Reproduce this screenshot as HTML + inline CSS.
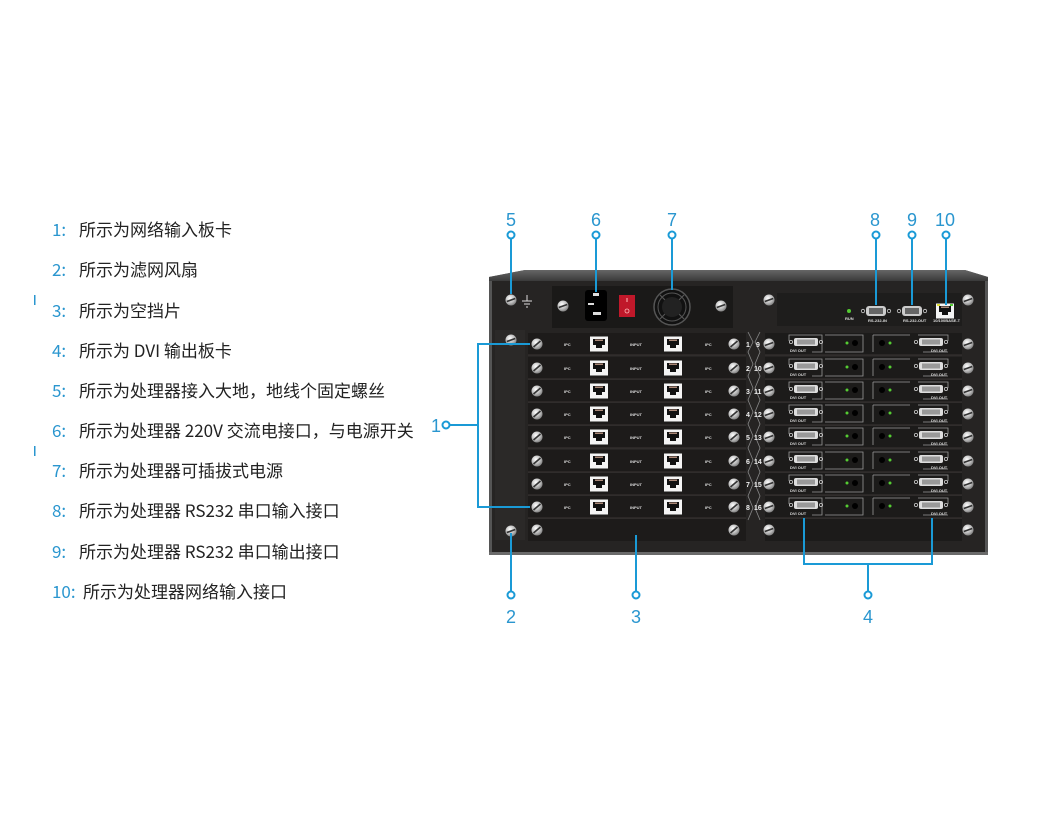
<!DOCTYPE html>
<html><head><meta charset="utf-8"><style>
html,body{margin:0;padding:0;background:#fff;width:1040px;height:830px;overflow:hidden}
svg{display:block}
.t{font-family:"Noto Sans CJK SC","Liberation Sans",sans-serif;font-size:17px;fill:#222}
.n{font-family:"Noto Sans CJK SC","Liberation Sans",sans-serif;font-size:17px;fill:#2a96cf}
.c{font-family:"Liberation Sans",sans-serif;font-size:18px;fill:#2a96cf;text-anchor:middle}
.s{font-family:"Liberation Sans",sans-serif;font-size:4px;fill:#ddd;font-weight:bold}
.w{font-family:"Liberation Sans",sans-serif;font-size:7px;fill:#eee;font-weight:bold}
</style></head><body>
<svg width="1040" height="830" viewBox="0 0 1040 830" xmlns="http://www.w3.org/2000/svg">
<defs>
<radialGradient id="sg" cx="0.4" cy="0.35" r="0.7"><stop offset="0" stop-color="#fff"/><stop offset="0.6" stop-color="#bbb"/><stop offset="1" stop-color="#777"/></radialGradient>
<linearGradient id="tg" x1="0" y1="0" x2="0" y2="1"><stop offset="0" stop-color="#666"/><stop offset="1" stop-color="#3a3a3a"/></linearGradient>
<g id="scr"><circle r="5.5" fill="url(#sg)"/><line x1="-3.5" y1="3" x2="3.5" y2="-3" stroke="#333" stroke-width="1.6"/></g>
<g id="scrh"><circle r="5.5" fill="url(#sg)"/><line x1="-4.5" y1="0" x2="4.5" y2="0" stroke="#333" stroke-width="1.6" transform="rotate(-20)"/></g>
<g id="rj"><rect x="-9" y="-7.5" width="18" height="15" fill="#f4f4f4"/><path d="M-6,-5 h12 v6 h-3 v3 h-6 v-3 h-3z" fill="#111"/><rect x="-4" y="-4.5" width="8" height="1.5" fill="#a87"/></g>
<g id="dvi"><rect x="-12" y="-4" width="24" height="8" rx="2" fill="#ddd"/><rect x="-9" y="-2.5" width="18" height="5" fill="#999"/><circle cx="-15" r="1.6" fill="none" stroke="#ccc" stroke-width="0.8"/><circle cx="15" r="1.6" fill="none" stroke="#ccc" stroke-width="0.8"/></g>
<g id="lrow">
<rect x="528" y="-11" width="218" height="22" fill="#1d1b1a"/>
<line x1="528" y1="11" x2="746" y2="11" stroke="#3a3634" stroke-width="1"/>
<use href="#scr" x="537"/>
<text class="s" x="564" y="2">IPC</text>
<use href="#rj" x="599"/>
<text class="s" x="630" y="2">INPUT</text>
<use href="#rj" x="673"/>
<text class="s" x="705" y="2">IPC</text>
<use href="#scr" x="734"/>
</g>
<g id="rrow">
<rect x="765" y="-11" width="197" height="22" fill="#1c1b1a"/>
<line x1="765" y1="11" x2="962" y2="11" stroke="#3a3634" stroke-width="1"/>
<use href="#scrh" x="769"/>
<path d="M789,-3 v-6 h33 v17 h-10" fill="none" stroke="#999" stroke-width="0.8"/>
<use href="#dvi" x="806" y="-2"/>
<text class="s" x="790" y="8">DVI OUT</text>
<path d="M825,-9 h38 v17 h-38" fill="none" stroke="#999" stroke-width="0.8"/>
<circle cx="847" cy="-1" r="1.5" fill="#5c3"/><circle cx="855" cy="-1" r="3" fill="#000"/>
<path d="M873,-9 v17 M873,-9 h37" fill="none" stroke="#999" stroke-width="0.8"/>
<circle cx="882" cy="-1" r="3" fill="#000"/><circle cx="890" cy="-1" r="1.5" fill="#5c3"/>
<path d="M918,-9 h30 v6 M948,8 h-25" fill="none" stroke="#999" stroke-width="0.8"/>
<use href="#dvi" x="931" y="-2"/>
<text class="s" x="931" y="8">DVI OUT</text>
<use href="#scrh" x="968"/>
</g>
</defs>

<!-- left text -->
<g>
<text class="n" x="52" y="236">1:</text><text class="t" x="79" y="236">所示为网络输入板卡</text>
<text class="n" x="52" y="276">2:</text><text class="t" x="79" y="276">所示为滤网风扇</text>
<text class="n" x="52" y="317">3:</text><text class="t" x="79" y="317">所示为空挡片</text>
<text class="n" x="52" y="357">4:</text><text class="t" x="79" y="357">所示为 DVI 输出板卡</text>
<text class="n" x="52" y="397">5:</text><text class="t" x="79" y="397">所示为处理器接入大地，地线个固定螺丝</text>
<text class="n" x="52" y="437">6:</text><text class="t" x="79" y="437">所示为处理器 220V 交流电接口，与电源开关</text>
<text class="n" x="52" y="477">7:</text><text class="t" x="79" y="477">所示为处理器可插拔式电源</text>
<text class="n" x="52" y="517">8:</text><text class="t" x="79" y="517">所示为处理器 RS232 串口输入接口</text>
<text class="n" x="52" y="558">9:</text><text class="t" x="79" y="558">所示为处理器 RS232 串口输出接口</text>
<text class="n" x="52" y="598">10:</text><text class="t" x="83" y="598">所示为处理器网络输入接口</text>
</g>
<rect x="34" y="295" width="1.5" height="10" fill="#2a96cf"/>
<rect x="34" y="446" width="1.5" height="10" fill="#2a96cf"/>

<!-- chassis -->
<path d="M489,277 L525,270 L965,270 L988,277 L988,555 L489,555 Z" fill="#555"/>
<path d="M489,277 L525,270 L965,270 L988,277 L988,281 L489,281 Z" fill="url(#tg)"/>
<rect x="492" y="281" width="493" height="271" fill="#262423"/>
<rect x="489" y="552" width="499" height="3" fill="#6a6a6a"/>

<!-- top section -->
<use href="#scrh" x="511" y="300"/>
<path d="M527,295 v6 M522,301 h10 M524,304 h6 M526,307 h2" stroke="#ddd" stroke-width="1" fill="none"/>
<rect x="552" y="286" width="181" height="42" fill="#1a1918"/>
<use href="#scrh" x="563" y="306"/>
<rect x="585" y="290" width="22" height="31" rx="3" fill="#000"/>
<rect x="593" y="293" width="6" height="3" fill="#ddd"/><rect x="588" y="303" width="6" height="2" fill="#ddd"/><rect x="593" y="312" width="8" height="3" fill="#ddd"/>
<rect x="619" y="295" width="16" height="22" fill="#c0182a"/>
<line x1="627" y1="298" x2="627" y2="302" stroke="#fbb" stroke-width="1"/><circle cx="627" cy="311" r="2" fill="none" stroke="#fbb" stroke-width="0.8"/>
<circle cx="672" cy="307" r="18" fill="#111" stroke="#555" stroke-width="1.5"/>
<circle cx="672" cy="307" r="14" fill="none" stroke="#555" stroke-width="1"/>
<path d="M660,295 L684,319 M684,295 L660,319" stroke="#555" stroke-width="1.2"/>
<circle cx="672" cy="307" r="10" fill="#222"/>
<use href="#scrh" x="721" y="306"/>
<use href="#scrh" x="769" y="300"/>
<rect x="777" y="293" width="185" height="33" fill="#1e1d1c"/>
<circle cx="849" cy="311" r="2" fill="#5c3"/><text class="s" x="845" y="320">RUN</text>
<g transform="translate(876,311)"><rect x="-10" y="-5" width="20" height="10" rx="3" fill="#ccc"/><rect x="-7" y="-3" width="14" height="6" fill="#666"/><circle cx="-13" r="1.7" fill="none" stroke="#ccc" stroke-width="0.8"/><circle cx="13" r="1.7" fill="none" stroke="#ccc" stroke-width="0.8"/></g>
<text class="s" x="868" y="322">RS-232-IN</text>
<g transform="translate(912,311)"><rect x="-10" y="-5" width="20" height="10" rx="3" fill="#ccc"/><rect x="-7" y="-3" width="14" height="6" fill="#666"/><circle cx="-13" r="1.7" fill="none" stroke="#ccc" stroke-width="0.8"/><circle cx="13" r="1.7" fill="none" stroke="#ccc" stroke-width="0.8"/></g>
<text class="s" x="903" y="322">RS-232-OUT</text>
<use href="#rj" x="945" y="311"/><rect x="937" y="304" width="3" height="2" fill="#dd3"/><rect x="950" y="304" width="3" height="2" fill="#5c3"/>
<text class="s" x="933" y="322">10/100BASE-T</text>
<use href="#scrh" x="968" y="300"/>

<!-- left column -->
<rect x="495" y="330" width="30" height="210" fill="#2b2928"/>
<use href="#scrh" x="511" y="340"/>
<use href="#scrh" x="511" y="531"/>

<!-- rows -->
<use href="#lrow" y="344"/><use href="#lrow" y="368"/><use href="#lrow" y="391"/><use href="#lrow" y="414"/>
<use href="#lrow" y="437"/><use href="#lrow" y="461"/><use href="#lrow" y="484"/><use href="#lrow" y="507"/>
<rect x="528" y="519" width="218" height="22" fill="#1d1b1a"/>
<use href="#scr" x="537" y="530"/><use href="#scr" x="734" y="530"/>
<use href="#rrow" y="344"/><use href="#rrow" y="368"/><use href="#rrow" y="391"/><use href="#rrow" y="414"/>
<use href="#rrow" y="437"/><use href="#rrow" y="461"/><use href="#rrow" y="484"/><use href="#rrow" y="507"/>
<rect x="765" y="519" width="197" height="22" fill="#1c1b1a"/>
<use href="#scrh" x="769" y="530"/><use href="#scrh" x="968" y="530"/>

<!-- numbers column -->
<path d="M748,332 L753,342 L748,352 L753,364 L748,376 L753,388 L748,400 L753,412 L748,424 L753,436 L748,448 L753,460 L748,472 L753,484 L748,496 L753,508 L748,520 M760,332 L755,342 L760,352 L755,364 L760,376 L755,388 L760,400 L755,412 L760,424 L755,436 L760,448 L755,460 L760,472 L755,484 L760,496 L755,508 L760,520" fill="none" stroke="#888" stroke-width="0.8"/>
<g class="w">
<text x="746" y="347">1</text><text x="756" y="347">9</text>
<text x="746" y="371">2</text><text x="754" y="371">10</text>
<text x="746" y="394">3</text><text x="754" y="394">11</text>
<text x="746" y="417">4</text><text x="754" y="417">12</text>
<text x="746" y="440">5</text><text x="754" y="440">13</text>
<text x="746" y="464">6</text><text x="754" y="464">14</text>
<text x="746" y="487">7</text><text x="754" y="487">15</text>
<text x="746" y="510">8</text><text x="754" y="510">16</text>
</g>

<!-- callouts -->
<g stroke="#1a9ad6" stroke-width="2" fill="none">
<line x1="511" y1="239" x2="511" y2="294"/><circle cx="511" cy="235" r="3.5" fill="#fff"/>
<line x1="596" y1="239" x2="596" y2="292"/><circle cx="596" cy="235" r="3.5" fill="#fff"/>
<line x1="672" y1="239" x2="672" y2="290"/><circle cx="672" cy="235" r="3.5" fill="#fff"/>
<line x1="876" y1="239" x2="876" y2="305"/><circle cx="876" cy="235" r="3.5" fill="#fff"/>
<line x1="912" y1="239" x2="912" y2="305"/><circle cx="912" cy="235" r="3.5" fill="#fff"/>
<line x1="946" y1="239" x2="946" y2="305"/><circle cx="946" cy="235" r="3.5" fill="#fff"/>
<line x1="511" y1="533" x2="511" y2="591"/><circle cx="511" cy="595" r="3.5" fill="#fff"/>
<line x1="636" y1="535" x2="636" y2="591"/><circle cx="636" cy="595" r="3.5" fill="#fff"/>
<path d="M804,518 V564 H932 V518 M868,564 V591"/><circle cx="868" cy="595" r="3.5" fill="#fff"/>
<path d="M530,344 H478 V507 H530 M478,425 H450"/><circle cx="446" cy="425" r="3.5" fill="#fff"/>
</g>
<text class="c" x="511" y="226">5</text>
<text class="c" x="596" y="226">6</text>
<text class="c" x="672" y="226">7</text>
<text class="c" x="875" y="226">8</text>
<text class="c" x="912" y="226">9</text>
<text class="c" x="945" y="226">10</text>
<text class="c" x="511" y="623">2</text>
<text class="c" x="636" y="623">3</text>
<text class="c" x="868" y="623">4</text>
<text class="c" x="436" y="432">1</text>
</svg>
</body></html>
